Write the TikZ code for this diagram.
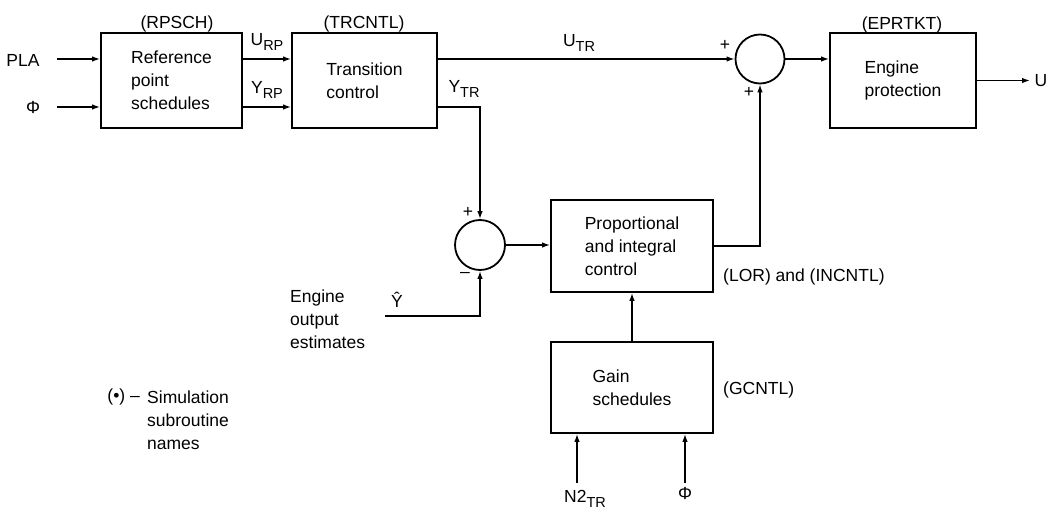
\documentclass[tikz,border=0pt]{standalone}
\usepackage{fontspec}
\setmainfont{Liberation Sans}
\usetikzlibrary{arrows.meta,calc}
\newcommand\sbs[1]{\raisebox{-0.55ex}{\fontsize{14.5}{14.5}\selectfont #1}}
\begin{document}
\begin{tikzpicture}[x=1pt,y=-1pt,
  every node/.style={font=\fontsize{17.5}{23}\selectfont, inner sep=0pt},
  blk/.style={draw, line width=1.8pt, align=left},
  sumc/.style={draw, circle, line width=1.8pt},
  con/.style={line width=1.4pt},
  arr/.style={con, -{Latex[length=8pt,width=5.5pt]}}]
\useasboundingbox (0,0) rectangle (1050,513);

% blocks
\node[blk, minimum width=141pt, minimum height=95pt] (rp) at (171.5,80.5) {Reference\\point\\schedules};
\node[blk, minimum width=145pt, minimum height=95pt] (tc) at (364.5,80.5) {Transition\\control\hspace{10pt}};
\node[blk, minimum width=146pt, minimum height=95pt] (ep) at (903,80.5) {Engine\\protection};
\node[blk, minimum width=162pt, minimum height=92pt] (pi) at (632,246) {Proportional\hspace{6pt}\\and integral\\control};
\node[blk, minimum width=162pt, minimum height=91pt] (gs) at (632,387.5) {Gain\\schedules};
\node[sumc, minimum size=50pt] (s1) at (480,245) {};
\node[sumc, minimum size=49pt] (s2) at (760,59) {};

% free ends
\coordinate (plaS) at (57,59);
\coordinate (phiS) at (57,107);
\coordinate (yhS) at (385,316);
\coordinate (uE) at (1030,80.5);
\coordinate (n2S) at (577,483);
\coordinate (phi2S) at (685,483);

% connectors
\draw[arr] (plaS) -- (plaS -| rp.west);
\draw[arr] (phiS) -- (phiS -| rp.west);
\draw[arr] (plaS -| rp.east) -- (plaS -| tc.west);
\draw[arr] (phiS -| rp.east) -- (phiS -| tc.west);
\draw[arr] (plaS -| tc.east) -- (s2.west);
\draw[arr] (phiS -| tc.east) -| (s1.north);
\draw[arr] (yhS) -| (s1.south);
\draw[arr] (s1.east) -- (s1.east -| pi.west);
\draw[arr] (pi.east) -| (s2.south);
\draw[arr] (s2.east) -- (s2.east -| ep.west);
\draw[arr] (ep.east) -- (uE);
\draw[arr] (gs.north) -- (pi.south);
\draw[arr] (n2S) -- (n2S |- gs.south);
\draw[arr] (phi2S) -- (phi2S |- gs.south);

% labels
\node (pla) at (23,60) {PLA};
\node (phi) at (33,107) {Φ};
\node (rpsch) at (177,24) {(RPSCH)};
\node (trcntl) at (364,24) {(TRCNTL)};
\node (eprtkt) at (902,25) {(EPRTKT)};
\node (urp) at (267,42) {U\sbs{RP}};
\node (yrp) at (267,90) {Y\sbs{RP}};
\node (utr) at (579,43) {U\sbs{TR}};
\node (ytr) at (464,89) {Y\sbs{TR}};
\node (p1) at (725,45) {+};
\node (p2) at (749,92) {+};
\node (p3) at (468,212) {+};
\node (m1) at (465,275) {–};
\node (yhat) at (397,300) {Ŷ};
\node[anchor=west, align=left] (eng) at (290,319) {Engine\\output\\estimates};
\node[anchor=east] (bul) at (140,397) {(•) –};
\node[anchor=west, align=left] (leg) at (147,420) {Simulation\\subroutine\\names};
\node[anchor=west] (lor) at (723,277) {(LOR) and (INCNTL)};
\node[anchor=west] (gcntl) at (723,390) {(GCNTL)};
\node (n2) at (585,499) {N2\sbs{TR}};
\node (phi2) at (685,493) {Φ};
\node (u) at (1041,81) {U};
\end{tikzpicture}
\end{document}
